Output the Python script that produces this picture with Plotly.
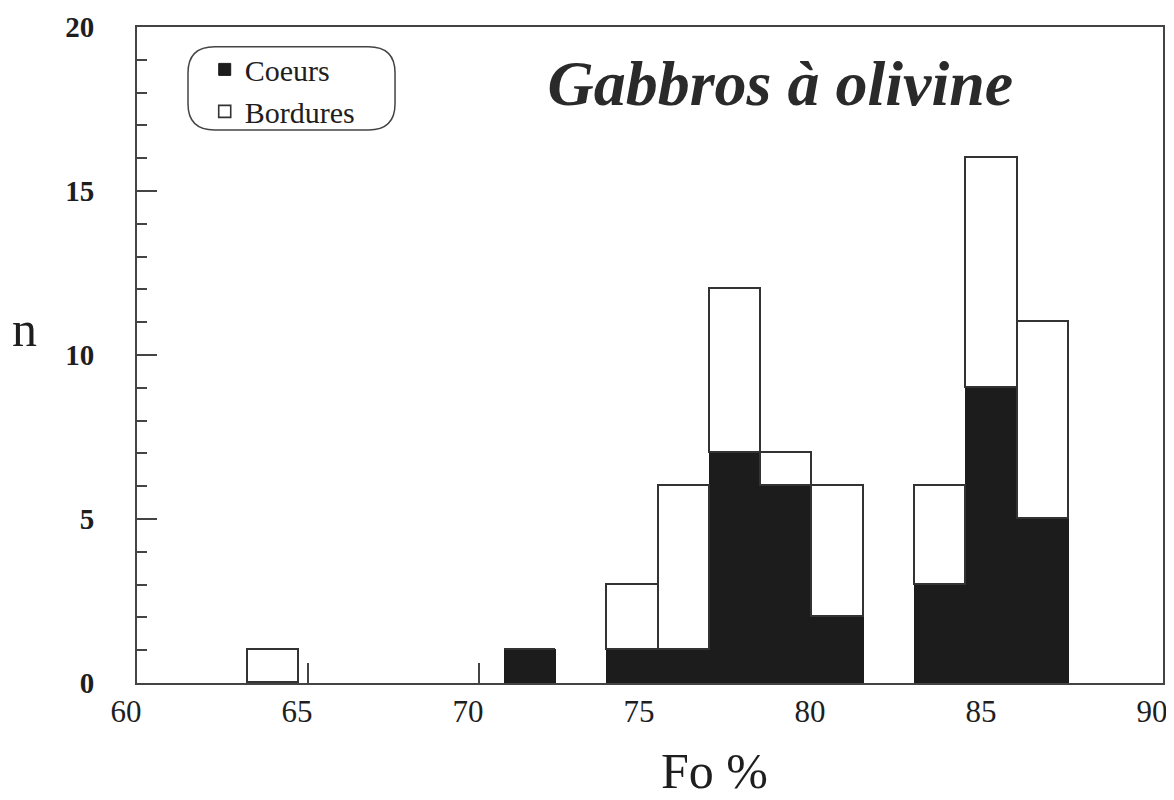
import plotly.graph_objects as go

# Bin centres (Fo %), bin width 1.5
fo_bins = [64.0, 71.5, 74.5, 76.0, 77.5, 79.0, 80.5, 83.5, 85.0, 86.5]
bin_width = 1.5
# Counts
coeurs = [0, 1, 1, 1, 7, 6, 2, 3, 9, 5]
totals = [1, 1, 3, 6, 12, 7, 6, 6, 16, 11]
bordures = [t - c for t, c in zip(totals, coeurs)]

x_ticks = [60, 65, 70, 75, 80, 85, 90]
y_ticks = [0, 5, 10, 15, 20]

SERIF = "Liberation Serif, Times New Roman, serif"
INK = "#1e1e1e"

fig = go.Figure()
fig.add_trace(go.Bar(
    x=fo_bins, y=coeurs, width=bin_width, name="Coeurs",
    marker=dict(color="#1c1c1c", line=dict(color="#1c1c1c", width=1)),
))
fig.add_trace(go.Bar(
    x=fo_bins, y=bordures, width=bin_width, name="Bordures",
    marker=dict(color="white", line=dict(color="#333333", width=1.6)),
))

# rounded legend box (paper coords)
x0, x1 = 0.0497, 0.2515
y0, y1 = 0.843, 0.970
rx, ry = 0.026, 0.040
path = (f"M {x0+rx},{y1} L {x1-rx},{y1} Q {x1},{y1} {x1},{y1-ry} "
        f"L {x1},{y0+ry} Q {x1},{y0} {x1-rx},{y0} L {x0+rx},{y0} "
        f"Q {x0},{y0} {x0},{y0+ry} L {x0},{y1-ry} Q {x0},{y1} {x0+rx},{y1} Z")

fig.update_layout(
    width=1166, height=792,
    margin=dict(l=129, r=11, t=19, b=117, autoexpand=False),
    paper_bgcolor="white", plot_bgcolor="white",
    barmode="stack", bargap=0,
    font=dict(family=SERIF, color=INK),
    title=dict(text="<b><i>Gabbros à olivine</i></b>",
               font=dict(family=SERIF, size=64, color="#2a2a2a"),
               x=0.627, xanchor="center", xref="paper",
               y=0.906, yanchor="middle", yref="container"),
    showlegend=True,
    legend=dict(x=0.066, y=0.975, xanchor="left", yanchor="top",
                bgcolor="rgba(0,0,0,0)", borderwidth=0,
                font=dict(family=SERIF, size=30, color=INK),
                traceorder="normal", itemwidth=30, tracegroupgap=0),
    shapes=[dict(type="path", path=path, xref="paper", yref="paper",
                 line=dict(color="#444444", width=1.5), fillcolor="rgba(0,0,0,0)")],
    annotations=[
        dict(text="n", xref="paper", yref="paper", x=-0.11, y=0.54,
             xanchor="center", yanchor="middle", showarrow=False,
             font=dict(family=SERIF, size=50, color=INK)),
        dict(text="Fo %", xref="paper", yref="paper", x=0.563, y=-0.134,
             xanchor="center", yanchor="middle", showarrow=False,
             font=dict(family=SERIF, size=50, color=INK)),
    ],
    xaxis=dict(range=[60, 90], tickvals=x_ticks, ticktext=[str(v) for v in x_ticks],
               ticks="inside", ticklen=20, tickcolor="#444", tickwidth=1.5,
               showline=True, linecolor="#444", linewidth=2, mirror=True,
               showgrid=False, zeroline=False, layer="below traces",
               automargin=False,
               ticklabelshift=-11, ticklabelstandoff=0,
               tickfont=dict(family=SERIF, size=31, color=INK)),
    yaxis=dict(range=[0, 20], tickvals=y_ticks, ticktext=[str(v) for v in y_ticks],
               ticks="inside", ticklen=20, tickcolor="#444", tickwidth=1.5,
               minor=dict(dtick=1, ticks="inside", ticklen=10, tickcolor="#444", tickwidth=1.5),
               showline=True, linecolor="#444", linewidth=2, mirror=True,
               showgrid=False, zeroline=False, layer="below traces",
               automargin=False,
               tickfont=dict(family=SERIF, size=29, color=INK, weight="bold"),
               ticklabelstandoff=35, ticklabelshift=0),
)

fig.write_html("out.html")
